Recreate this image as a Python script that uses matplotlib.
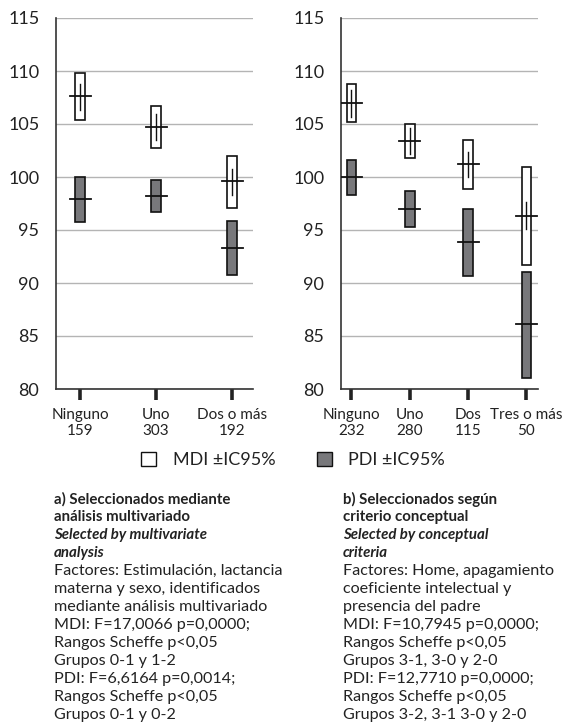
import matplotlib
matplotlib.use('Agg')
import matplotlib.pyplot as plt
from matplotlib.patches import Rectangle, Patch

plt.rcParams['font.family'] = ['Lato', 'DejaVu Sans']

# ---- panel a: seleccionados mediante analisis multivariado ----
cats_a = ['Ninguno', 'Uno', 'Dos o más']
n_a = [159, 303, 192]
mdi_mean_a = [107.6, 104.7, 99.6]
mdi_lo_a = [105.4, 102.7, 97.1]
mdi_hi_a = [109.8, 106.7, 102.0]
mdi_err_lo_a = [106.35, 103.5, 98.3]
mdi_err_hi_a = [108.8, 105.9, 100.8]
pdi_mean_a = [97.9, 98.2, 93.3]
pdi_lo_a = [95.8, 96.7, 90.75]
pdi_hi_a = [100.0, 99.7, 95.85]

# ---- panel b: seleccionados segun criterio conceptual ----
cats_b = ['Ninguno', 'Uno', 'Dos', 'Tres o más']
n_b = [232, 280, 115, 50]
mdi_mean_b = [107.0, 103.4, 101.2, 96.3]
mdi_lo_b = [105.2, 101.8, 98.9, 91.7]
mdi_hi_b = [108.8, 105.0, 103.5, 100.9]
mdi_err_lo_b = [105.7, 102.2, 100.0, 95.1]
mdi_err_hi_b = [108.2, 104.6, 102.4, 97.6]
pdi_mean_b = [100.0, 97.0, 93.9, 86.1]
pdi_lo_b = [98.3, 95.25, 90.7, 81.07]
pdi_hi_b = [101.6, 98.7, 97.0, 91.0]

yticks = [80, 85, 90, 95, 100, 105, 110, 115]

notes_a = ['a) Seleccionados mediante', 'análisis multivariado',
           'Selected by multivariate', 'analysis',
           'Factores: Estimulación, lactancia', 'materna y sexo, identificados',
           'mediante análisis multivariado', 'MDI: F=17,0066 p=0,0000;',
           'Rangos Scheffe p<0,05', 'Grupos 0-1 y 1-2',
           'PDI: F=6,6164 p=0,0014;', 'Rangos Scheffe p<0,05', 'Grupos 0-1 y 0-2']
notes_b = ['b) Seleccionados según', 'criterio conceptual',
           'Selected by conceptual', 'criteria',
           'Factores: Home, apagamiento', 'coeficiente intelectual y',
           'presencia del padre', 'MDI: F=10,7945 p=0,0000;',
           'Rangos Scheffe p<0,05', 'Grupos 3-1, 3-0 y 2-0',
           'PDI: F=12,7710 p=0,0000;', 'Rangos Scheffe p<0,05',
           'Grupos 3-2, 3-1 3-0 y 2-0']

W, H = 568, 722
fig = plt.figure(figsize=(W / 100, H / 100), dpi=100)

PDI_COLOR = '#78787b'
GRID = '#b4b4b4'


def draw_panel(ax, cats, n, mm, mlo, mhi, elo, ehi, pm, plo, phi, xlim):
    ax.set_xlim(*xlim)
    ax.set_ylim(80, 115)
    # pixel -> data conversion along x
    px = ax.get_position().width * W / (xlim[1] - xlim[0])
    bw = 9.5 / px
    ml = 21 / px
    for i in range(len(cats)):
        ax.add_patch(Rectangle((i - bw / 2, mlo[i]), bw, mhi[i] - mlo[i],
                               facecolor='white', edgecolor='#111', lw=1.2, zorder=3))
        ax.plot([i, i], [elo[i], ehi[i]], color='#111', lw=1.0, zorder=4)
        ax.plot([i - ml / 2, i + ml / 2], [mm[i], mm[i]], color='#111', lw=1.3, zorder=4)
        ax.add_patch(Rectangle((i - bw / 2, plo[i]), bw, phi[i] - plo[i],
                               facecolor=PDI_COLOR, edgecolor='#111', lw=1.2, zorder=3))
        ax.plot([i - ml / 2, i + ml / 2], [pm[i], pm[i]], color='#111', lw=1.3, zorder=4)
    ax.set_xticks(range(len(cats)))
    ax.set_xticklabels([f'{c}\n{k}' for c, k in zip(cats, n)], fontsize=11,
                       linespacing=1.15)
    ax.set_yticks(yticks)
    ax.set_yticklabels([str(v) for v in yticks], fontsize=13, color='#222')
    ax.yaxis.grid(True, color=GRID, lw=1.0)
    ax.set_axisbelow(True)
    for s in ['top', 'right']:
        ax.spines[s].set_visible(False)
    for s in ['left', 'bottom']:
        ax.spines[s].set_color('#333')
        ax.spines[s].set_linewidth(1.2)
    ax.tick_params(axis='y', length=0, pad=12)
    ax.tick_params(axis='x', length=8, width=2.6, color='#222', direction='out',
                   pad=6, labelcolor='#222')


bottom = 1 - 389 / H
height = (389 - 18) / H
ax1 = fig.add_axes([56 / W, bottom, 197 / W, height])
ax2 = fig.add_axes([341 / W, bottom, 197 / W, height])

draw_panel(ax1, cats_a, n_a, mdi_mean_a, mdi_lo_a, mdi_hi_a, mdi_err_lo_a,
           mdi_err_hi_a, pdi_mean_a, pdi_lo_a, pdi_hi_a, (-0.316, 2.276))
draw_panel(ax2, cats_b, n_b, mdi_mean_b, mdi_lo_b, mdi_hi_b, mdi_err_lo_b,
           mdi_err_hi_b, pdi_mean_b, pdi_lo_b, pdi_hi_b, (-0.18, 3.2))

handles = [Patch(facecolor='white', edgecolor='#111', lw=1.0, label='MDI ±IC95%'),
           Patch(facecolor=PDI_COLOR, edgecolor='#111', lw=1.0, label='PDI ±IC95%')]
fig.legend(handles=handles, loc='center', bbox_to_anchor=(293 / W, 1 - 460 / H),
           ncol=2, frameon=False, fontsize=13, handlelength=0.85, handleheight=0.85,
           columnspacing=2.3, handletextpad=0.9, labelcolor='#222')

# footnote columns
for x0, lines in [(54, notes_a), (343, notes_b)]:
    for i, t in enumerate(lines):
        if i < 2:
            kw = dict(fontweight='bold', fontsize=10.8)
        elif i < 4:
            kw = dict(fontweight='bold', fontstyle='italic', fontsize=10.8)
        else:
            kw = dict(fontsize=11.6)
        fig.text(x0 / W, 1 - (499 + 18 * i) / H, t, va='center',
                 ha='left', color='#222', **kw)

fig.savefig('out.png', dpi=100)
